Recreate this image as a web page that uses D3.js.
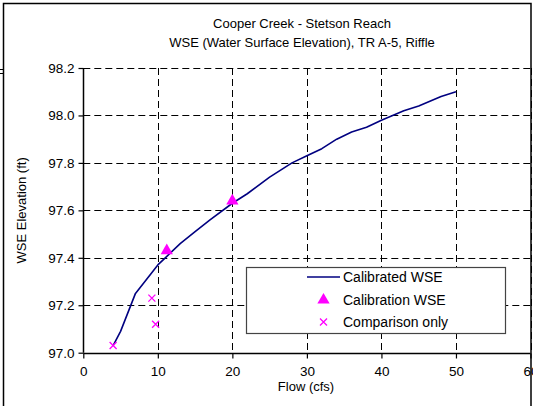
<!DOCTYPE html>
<html>
<head>
<meta charset="utf-8">
<script src="https://cdn.jsdelivr.net/npm/d3@7/dist/d3.min.js"></script>
<style>
  html, body { margin: 0; padding: 0; background: #fff; }
  svg { display: block; font-family: "Liberation Sans", Arial, sans-serif; }
</style>
</head>
<body>
<svg id="chart" width="533" height="406"></svg>
<script>
// Calibrated rating curve (flow in cfs, water surface elevation in ft)
const flowCalibrated = [4, 5, 7, 9, 10, 11, 13, 15, 17, 20, 22, 25, 28, 30, 32, 34, 36, 38, 40, 43, 45, 48, 50];
const wseCalibrated  = [97.03, 97.09, 97.25, 97.33, 97.37, 97.40, 97.46, 97.51, 97.56, 97.63, 97.67, 97.74, 97.80, 97.83, 97.86, 97.90, 97.93, 97.95, 97.98, 98.02, 98.04, 98.08, 98.10];

// Measured points used for calibration
const flowCalibration = [11.2, 20.0];
const wseCalibration  = [97.43, 97.64];

// Measured points shown for comparison only
const flowComparison = [4.0, 9.2, 9.7];
const wseComparison  = [97.03, 97.23, 97.12];

const xTicks = [0, 10, 20, 30, 40, 50, 60];
const yTicks = [97.0, 97.2, 97.4, 97.6, 97.8, 98.0, 98.2];

const titleLines = ["Cooper Creek - Stetson Reach", "WSE (Water Surface Elevation), TR A-5, Riffle"];
const legendLabels = ["Calibrated WSE", "Calibration WSE", "Comparison only"];

const svg = d3.select("#chart");
const plot = { left: 83.3, right: 530.5, top: 68, bottom: 352.7 };

const x = d3.scaleLinear().domain([0, 60]).range([plot.left, plot.right]);
const y = d3.scaleLinear().domain([97.0, 98.2]).range([plot.bottom, plot.top]);

const lineColor = "#000080";
const markColor = "#ff00ff";

// Outer chart frame
svg.append("path")
  .attr("d", "M3.5,410V3.5H531V410")
  .attr("fill", "none").attr("stroke", "#000").attr("stroke-width", 1.5);
svg.append("path")
  .attr("d", "M0,69.5H3M0,73.5H3")
  .attr("stroke", "#000").attr("stroke-width", 1);

// Titles
svg.append("g").selectAll("text").data(titleLines).join("text")
  .attr("x", 302).attr("y", (d, i) => 28 + i * 19)
  .attr("text-anchor", "middle").attr("font-size", 13).attr("fill", "#000")
  .text(d => d);

// Gridlines
const grid = svg.append("g").attr("stroke", "#000").attr("stroke-width", 1)
  .attr("stroke-dasharray", "7,4").attr("fill", "none");
grid.selectAll("line.h").data(yTicks.filter(v => v > 97.0)).join("line")
  .attr("x1", plot.left).attr("x2", plot.right)
  .attr("y1", d => Math.round(y(d)) + 0.5).attr("y2", d => Math.round(y(d)) + 0.5);
grid.selectAll("line.v").data(xTicks.filter(v => v > 0)).join("line")
  .attr("y1", plot.top).attr("y2", plot.bottom)
  .attr("x1", d => Math.round(x(d)) + 0.5).attr("x2", d => Math.round(x(d)) + 0.5);

// Axes
const xAxis = d3.axisBottom(x).tickValues(xTicks).tickSize(5).tickPadding(8).tickFormat(d3.format("d"));
const yAxis = d3.axisLeft(y).tickValues(yTicks).tickSize(5).tickPadding(4).tickFormat(d3.format(".1f"));

const gx = svg.append("g").attr("transform", `translate(0,${Math.round(plot.bottom) + 0.5})`).call(xAxis);
const gy = svg.append("g").attr("transform", `translate(${Math.round(plot.left) + 0.5},0)`).call(yAxis);
[gx, gy].forEach(g => {
  g.attr("font-family", null).attr("font-size", null);
  g.select(".domain").attr("stroke", "#000").attr("stroke-width", 1.5);
  g.selectAll(".tick line").attr("stroke", "#000").attr("stroke-width", 1.2);
  g.selectAll(".tick text").attr("fill", "#000").style("font-size", "13.5px");
});
gx.select(".domain").attr("d", `M${plot.left},0H${plot.right}`);
gy.select(".domain").attr("d", `M0,${plot.top}V${plot.bottom}`);

// Axis titles
svg.append("text").attr("x", 306).attr("y", 391)
  .attr("text-anchor", "middle").attr("font-size", 13).text("Flow (cfs)");
svg.append("text")
  .attr("transform", `translate(26,${(plot.top + plot.bottom) / 2}) rotate(-90)`)
  .attr("text-anchor", "middle").attr("font-size", 13).text("WSE Elevation (ft)");

// Calibrated WSE line
const line = d3.line().x(d => x(d[0])).y(d => y(d[1]));
svg.append("path")
  .datum(d3.zip(flowCalibrated, wseCalibrated))
  .attr("d", line)
  .attr("fill", "none").attr("stroke", lineColor).attr("stroke-width", 1.6)
  .attr("stroke-linejoin", "round");

// Calibration WSE triangles
const tri = d3.symbol().type(d3.symbolTriangle).size(65);
svg.append("g").selectAll("path").data(d3.zip(flowCalibration, wseCalibration)).join("path")
  .attr("d", tri)
  .attr("transform", d => `translate(${x(d[0])},${y(d[1])})`)
  .attr("fill", markColor);

// Comparison-only crosses
const cross = "M-3.5,-3.5L3.5,3.5M-3.5,3.5L3.5,-3.5";
svg.append("g").selectAll("path").data(d3.zip(flowComparison, wseComparison)).join("path")
  .attr("d", cross)
  .attr("transform", d => `translate(${x(d[0])},${y(d[1])})`)
  .attr("stroke", markColor).attr("stroke-width", 1.3).attr("fill", "none");

// Legend
const lg = svg.append("g");
lg.append("rect").attr("x", 246.5).attr("y", 267.5).attr("width", 259).attr("height", 66)
  .attr("fill", "#fff").attr("stroke", "#444").attr("stroke-width", 1.2);
const rowY = [277, 300, 322];
lg.append("line").attr("x1", 307).attr("x2", 340).attr("y1", rowY[0]).attr("y2", rowY[0])
  .attr("stroke", lineColor).attr("stroke-width", 1.6);
lg.append("path").attr("d", tri).attr("transform", `translate(323.5,${rowY[1]})`).attr("fill", markColor);
lg.append("path").attr("d", cross).attr("transform", `translate(323.5,${rowY[2]})`)
  .attr("stroke", markColor).attr("stroke-width", 1.3).attr("fill", "none");
lg.selectAll("text").data(legendLabels).join("text")
  .attr("x", 343).attr("y", (d, i) => rowY[i]).attr("dy", "0.35em")
  .attr("font-size", 14).attr("fill", "#000").text(d => d);
</script>
</body>
</html>
